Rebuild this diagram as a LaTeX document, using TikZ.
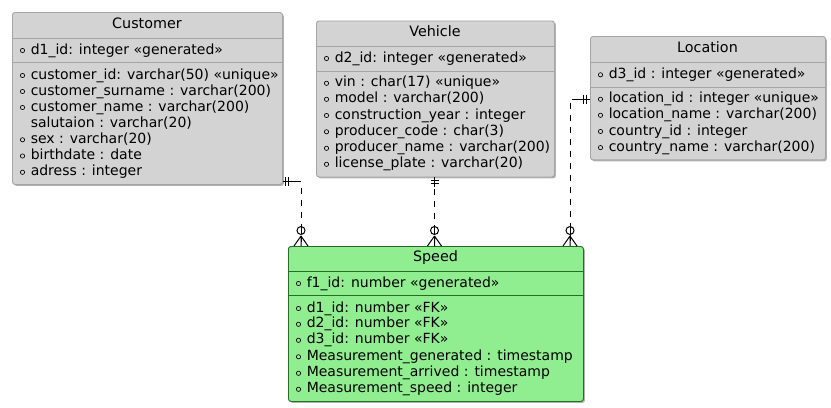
\documentclass[tikz,border=0pt]{standalone}
\usepackage{fontspec}
\setmainfont{DejaVu Sans}
\usetikzlibrary{shadows}
\definecolor{entgray}{RGB}{211,211,211}
\definecolor{entborder}{RGB}{165,165,165}
\definecolor{spgreen}{RGB}{144,238,144}
\definecolor{spborder}{RGB}{35,110,35}
\tikzset{
  ent/.style={draw=entborder, fill=entgray, rounded corners=2pt, anchor=north west, inner sep=0pt, line width=0.7pt,
    drop shadow={shadow xshift=1.1pt, shadow yshift=-1.1pt, opacity=0.3, fill=black}},
  spent/.style={ent, draw=spborder, fill=spgreen},
  sepline/.style={draw=entborder, line width=0.7pt},
  spsep/.style={draw=spborder, line width=0.7pt},
  ttl/.style={anchor=mid, inner sep=0pt, font=\fontsize{10.75}{12}\selectfont},
  attr/.style={anchor=mid west, inner sep=0pt, font=\fontsize{10.5}{12}\selectfont},
  bul/.style={draw=black, line width=0.5pt},
  rel/.style={draw=black, line width=0.75pt, dash pattern=on 4.5pt off 4.5pt},
  relsolid/.style={draw=black, line width=0.75pt},
}
\newcommand\erb[4]{\draw[bul] (#2+10.5,#3) circle[radius=1.6pt]; \node[attr] (#1) at (#2+18.5,#3) {#4};}
\newcommand\ern[4]{\node[attr] (#1) at (#2+18.5,#3) {#4};}
\begin{document}
\begin{tikzpicture}[x=0.75pt,y=-0.75pt]
\useasboundingbox (0,0) rectangle (831,407);
% ---------- Customer ----------
\node[ent, minimum width=202.5pt, minimum height=129pt] (cust) at (12,12) {};
\node[ttl] (custT) at (147,25) {Customer};
\draw[sepline] (12,38.3) -- (282,38.3);
\draw[sepline] (12,62.3) -- (282,62.3);
\erb{c0}{12}{50.5}{d1\_id: integer «generated»}
\erb{c1}{12}{75.5}{customer\_id: varchar(50) «unique»}
\erb{c2}{12}{91.5}{customer\_surname : varchar(200)}
\erb{c3}{12}{107.5}{customer\_name : varchar(200)}
\ern{c4}{12}{123.5}{salutaion : varchar(20)}
\erb{c5}{12}{139.8}{sex : varchar(20)}
\erb{c6}{12}{156}{birthdate : date}
\erb{c7}{12}{172.3}{adress : integer}
% ---------- Vehicle ----------
\node[ent, minimum width=178.5pt, minimum height=117pt] (veh) at (316,20.5) {};
\node[ttl] (vehT) at (435,33) {Vehicle};
\draw[sepline] (316,46.5) -- (554,46.5);
\draw[sepline] (316,71.5) -- (554,71.5);
\erb{v0}{316}{58.5}{d2\_id: integer «generated»}
\erb{v1}{316}{83.3}{vin : char(17) «unique»}
\erb{v2}{316}{99.3}{model : varchar(200)}
\erb{v3}{316}{115.5}{construction\_year : integer}
\erb{v4}{316}{131.8}{producer\_code : char(3)}
\erb{v5}{316}{148.3}{producer\_name : varchar(200)}
\erb{v6}{316}{164.3}{license\_plate : varchar(20)}
% ---------- Location ----------
\node[ent, minimum width=176.25pt, minimum height=92.6pt] (loc) at (590,36) {};
\node[ttl] (locT) at (707.5,49) {Location};
\draw[sepline] (590,62.3) -- (825,62.3);
\draw[sepline] (590,87.3) -- (825,87.3);
\erb{l0}{590}{74.8}{d3\_id : integer «generated»}
\erb{l1}{590}{99.3}{location\_id : integer «unique»}
\erb{l2}{590}{115.3}{location\_name : varchar(200)}
\erb{l3}{590}{131.5}{country\_id : integer}
\erb{l4}{590}{147.6}{country\_name : varchar(200)}
% ---------- Speed ----------
\node[spent, minimum width=221.25pt, minimum height=116.25pt] (speed) at (288,246) {};
\node[ttl] (spT) at (435.5,258) {Speed};
\draw[spsep] (288,271.7) -- (583,271.7);
\draw[spsep] (288,295.7) -- (583,295.7);
\erb{s0}{288}{283.5}{f1\_id: number «generated»}
\erb{s1}{288}{308.5}{d1\_id: number «FK»}
\erb{s2}{288}{324.3}{d2\_id: number «FK»}
\erb{s3}{288}{340.3}{d3\_id: number «FK»}
\erb{s4}{288}{356.8}{Measurement\_generated : timestamp}
\erb{s5}{288}{373.3}{Measurement\_arrived : timestamp}
\erb{s6}{288}{389.3}{Measurement\_speed : integer}
% ---------- Relations ----------
% Customer -> Speed
\draw[rel] (cust.east |- 0,181.7) -- (301,181.7) -- (speed.north -| 301,0);
\draw[relsolid] (cust.east |- 0,181.7) -- (296,181.7);
\draw[relsolid] (285,177.2) -- (285,186.2) (288.5,177.2) -- (288.5,186.2);
% Vehicle -> Speed
\draw[rel] (veh.south -| 434.5,0) -- (speed.north -| 434.5,0);
\draw[relsolid] (veh.south -| 434.5,0) -- (434.5,187);
\draw[relsolid] (430.5,180) -- (438.5,180) (430.5,183.5) -- (438.5,183.5);
% Location -> Speed
\draw[rel] (loc.west |- 0,99.3) -- (570,99.3) -- (speed.north -| 570,0);
\draw[relsolid] (loc.west |- 0,99.3) -- (575,99.3);
\draw[relsolid] (583,94.8) -- (583,103.8) (586.5,94.8) -- (586.5,103.8);
% crow's feet (zero or many) at Speed
\foreach \cx in {301,434.5,570}{
  \draw[relsolid] (\cx,236) -- (\cx,246) (\cx,236) -- (\cx-7,246) (\cx,236) -- (\cx+7,246);
  \draw[relsolid, fill=white] (\cx,230.5) circle[radius=3pt];
  \draw[relsolid] (\cx,227) -- (\cx,234);
}
\end{tikzpicture}
\end{document}
